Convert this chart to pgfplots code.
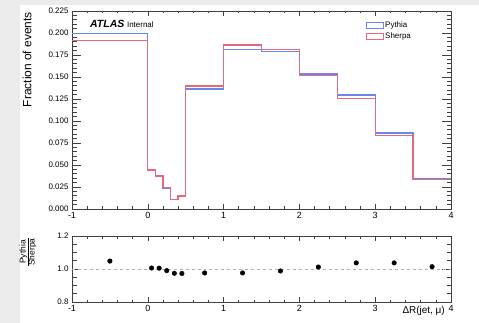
\documentclass[border=0pt]{standalone}
\usepackage{pgfplots}
\pgfplotsset{compat=1.18}
\usepackage{fontspec}
\setmainfont{Liberation Sans}
\definecolor{pyblue}{RGB}{105,135,235}
\definecolor{shred}{RGB}{228,105,125}
\definecolor{bggray}{RGB}{235,235,235}
\pgfplotsset{
  atlasstyle/.style={
    scale only axis, tick align=inside,
    axis line style={black!75, line width=0.7bp},
    every tick/.append style={black!75, line width=0.6bp},
    /pgf/number format/assume math mode=true,
    xmin=-1, xmax=4, xtick={-1,0,1,2,3,4}, minor x tick num=4,
    xticklabel style={font=\fontsize{9}{10}\selectfont},
    yticklabel style={font=\fontsize{8}{9}\selectfont},
    xtick style={/pgfplots/major tick length=5bp,/pgfplots/minor tick length=2.5bp},
    ytick style={/pgfplots/major tick length=9bp,/pgfplots/minor tick length=4.5bp},
  }
}
\begin{document}
\begin{tikzpicture}
\fill[bggray] (-72bp,-114bp) rectangle (407bp,209bp);
\fill[white] (-52bp,-114bp) rectangle (407bp,204bp);
\begin{axis}[atlasstyle, name=top,
  width=379bp, height=198bp,
  ymin=0, ymax=0.225,
  ytick={0,0.025,0.05,0.075,0.1,0.125,0.15,0.175,0.2,0.225},
  minor y tick num=4,
  yticklabel style={/pgf/number format/.cd, fixed, fixed zerofill, precision=3},
  legend style={draw=none, fill=none, at={(0.775,0.955)}, anchor=north west,
    font=\fontsize{8}{9}\selectfont, row sep=1bp, inner sep=0pt,
    nodes={inner sep=1.5bp}},
  legend cell align=left,
  legend image code/.code={\draw[#1, line width=0.8bp] (0bp,-3bp) rectangle (17bp,3bp);},
]
\addplot[const plot, draw=pyblue, line width=1.3bp, line join=miter] coordinates {
(-1,0.1996) (0,0.0445) (0.1,0.0377) (0.2,0.0240) (0.3,0.0107) (0.4,0.0144)
(0.5,0.1362) (1,0.1815) (1.5,0.1790) (2,0.1534) (2.5,0.1295) (3,0.0865)
(3.5,0.0340) (4,0.0340)};
\addlegendentry{Pythia}
\addplot[const plot, draw=shred, line width=1.3bp, line join=miter] coordinates {
(-1,0.1915) (0,0.0443) (0.1,0.0375) (0.2,0.0242) (0.3,0.0110) (0.4,0.0148)
(0.5,0.1398) (1,0.1864) (1.5,0.1812) (2,0.1520) (2.5,0.1252) (3,0.0838)
(3.5,0.0336) (4,0.0336)};
\addlegendentry{Sherpa}
\end{axis}
\begin{axis}[atlasstyle,
  width=379bp, height=66bp, at={(top.south west)}, anchor=north west, yshift=-27bp,
  ymin=0.8, ymax=1.2, ytick={0.8,1.0,1.2}, minor y tick num=3,
  yticklabel style={/pgf/number format/.cd, fixed, fixed zerofill, precision=1},
]
\addplot[gray!60, dashed, line width=0.6bp] coordinates {(-1,1) (4,1)};
\addplot[only marks, mark=*, mark size=2.3bp, black] coordinates {
(-0.5,1.048) (0.05,1.006) (0.15,1.005) (0.25,0.990) (0.35,0.974) (0.45,0.973)
(0.75,0.976) (1.25,0.976) (1.75,0.988) (2.25,1.012) (2.75,1.037) (3.25,1.037)
(3.75,1.014)};
\end{axis}
\node[anchor=base west, inner sep=0] at (18bp,181bp) {{\fontsize{10.5}{12}\selectfont\bfseries\itshape ATLAS} {\fontsize{8}{9}\selectfont Internal}};
\node[rotate=90, anchor=east, inner sep=0, font=\fontsize{12}{14}\selectfont] at (-45bp,197bp) {Fraction of events};
\node[rotate=90, inner sep=0, font=\fontsize{8.5}{10}\selectfont] at (-44bp,-43bp) {$\frac{\mbox{Pythia}}{\mbox{Sherpa}}$};
\node[anchor=base east, inner sep=0, font=\fontsize{10}{12}\selectfont] at (373bp,-104bp) {ΔR(jet, μ)};
\pgfresetboundingbox
\useasboundingbox (-72bp,-114bp) rectangle (407bp,209bp);
\end{tikzpicture}
\end{document}
